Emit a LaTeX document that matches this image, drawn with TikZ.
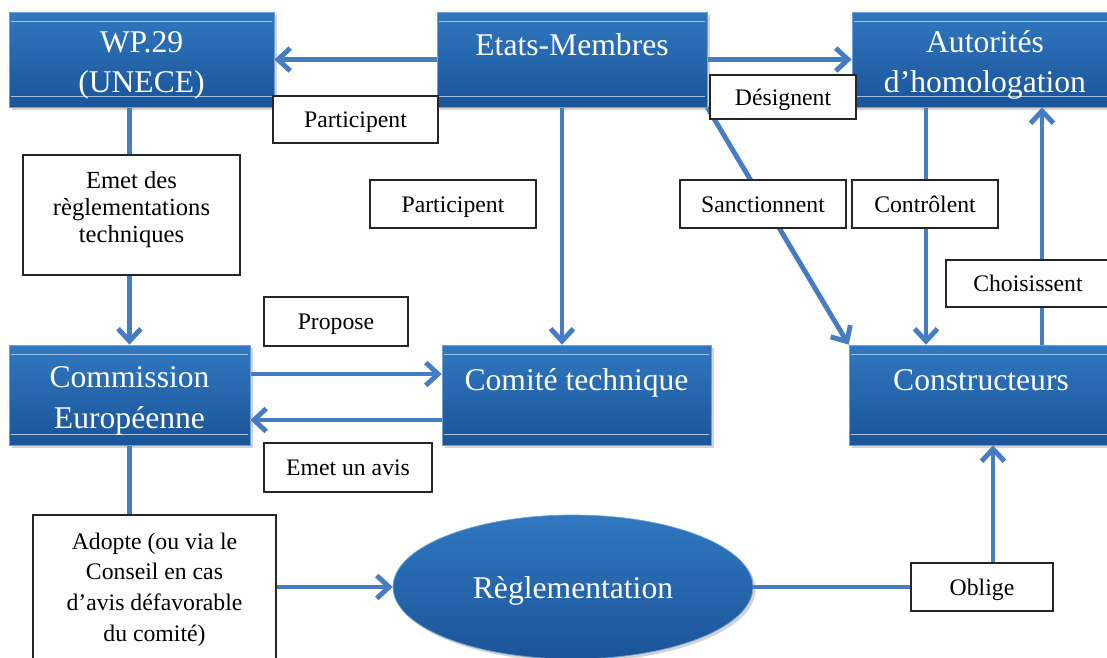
\documentclass[tikz,border=0pt]{standalone}
\usepackage{fontspec}
\setmainfont{Liberation Serif}
\usetikzlibrary{shapes.geometric, arrows.meta, shadows, calc, backgrounds}
\definecolor{boxtop}{RGB}{48,120,192}
\definecolor{boxbot}{RGB}{27,84,152}
\definecolor{lineblue}{RGB}{70,124,194}
\tikzstyle{arrow} = [line width=2.8pt, draw=lineblue, -{Straight Barb[length=7pt,width=13pt]}]
\tikzstyle{link} = [line width=2.8pt, draw=lineblue]

\begin{document}
\begin{tikzpicture}[x=0.02cm, y=-0.02cm,
    bluebox/.style={rectangle, top color=boxtop, bottom color=boxbot, draw=boxtop!70!white, line width=0.4pt,
        drop shadow={opacity=0.35, shadow xshift=1.5pt, shadow yshift=-1.5pt},
        text=white, font=\fontsize{18}{23}\selectfont, align=center, inner sep=0pt},
    shine/.style={path picture={
        \draw[white!55!boxtop, line width=0.5pt]
          ([xshift=1pt, yshift=-5.5pt]path picture bounding box.north west) -- ([xshift=-1pt, yshift=-5.5pt]path picture bounding box.north east)
          ([xshift=1pt, yshift=6pt]path picture bounding box.south west) -- ([xshift=-1pt, yshift=6pt]path picture bounding box.south east);}},
    raised/.style={text height=12pt, text depth=17pt},
    twoline/.style={text height=38pt, text depth=0pt},
    lbl/.style={rectangle, draw=black!85, line width=0.7pt, fill=white,
        font=\fontsize{13.5}{16}\selectfont, align=center, inner sep=0pt},
    tag/.style={lbl, text height=9.3pt, text depth=0pt}]
\useasboundingbox (0, 0) rectangle (1107, 657);

% blue boxes
\node[bluebox, shine, twoline, minimum width=5.3cm, minimum height=1.9cm] (wp) at (141.5, 59.5) {WP.29\\(UNECE)};
\node[bluebox, shine, raised, minimum width=5.4cm, minimum height=1.9cm] (etats) at (572, 59.5) {Etats-Membres};
\node[bluebox, shine, twoline, minimum width=5.32cm, minimum height=1.9cm] (auto) at (985, 59.5) {Autorités\\d’homologation};
\node[bluebox, shine, twoline, minimum width=4.82cm, minimum height=2cm] (comm) at (129.5, 395) {Commission\\Européenne};
\node[bluebox, shine, raised, minimum width=5.38cm, minimum height=2cm] (comite) at (576.5, 395) {Comité technique};
\node[bluebox, shine, raised, minimum width=5.28cm, minimum height=2cm] (constr) at (981, 395) {Constructeurs};
\node[bluebox, ellipse, text height=13.6pt, text depth=0pt, minimum width=7.2cm, minimum height=2.88cm] (regl) at (573, 587) {Règlementation};

% label boxes
\node[tag, minimum width=3.3cm, minimum height=0.94cm] (part1) at (355.5, 119.5) {Participent};
\node[lbl, minimum width=4.34cm, minimum height=2.4cm, font=\fontsize{14}{15.6}\selectfont,
      text height=31.8pt, text depth=0pt] (emet) at (131.5, 215) {Emet des\\règlementations\\techniques};
\node[tag, minimum width=3.32cm, minimum height=0.96cm] (part2) at (453, 204) {Participent};
\node[tag, minimum width=2.92cm, minimum height=0.88cm] (design) at (783, 97) {Désignent};
\node[tag, minimum width=3.32cm, minimum height=0.96cm] (sanct) at (763, 204) {Sanctionnent};
\node[tag, minimum width=2.92cm, minimum height=0.96cm] (ctrl) at (925, 204) {Contrôlent};
\node[tag, minimum width=3.28cm, minimum height=0.94cm] (choix) at (1028, 283.5) {Choisissent};
\node[tag, minimum width=2.88cm, minimum height=0.98cm] (prop) at (336, 321.5) {Propose};
\node[tag, minimum width=3.36cm, minimum height=0.98cm] (avis) at (348, 467.5) {Emet un avis};
\node[lbl, minimum width=4.86cm, minimum height=2.9cm, font=\fontsize{13.5}{17.6}\selectfont,
      text height=61.8pt, text depth=0pt] (adopte) at (154.5, 587.5) {Adopte (ou via le\\Conseil en cas\\d’avis défavorable\\du comité)};
\node[tag, minimum width=2.84cm, minimum height=0.96cm] (oblige) at (982, 587) {Oblige};

% connectors, behind the boxes
\begin{pgfonlayer}{background}
\draw[arrow] (etats.west) -- (wp.east);
\draw[arrow] (etats.east) -- (auto.west);
\draw[arrow] ($(etats.south)+(-10,0)$) -- ($(comite.north)+(-14.5,0)$);
\draw[arrow] (etats.south east) -- (constr.north west);
\draw[arrow] ($(auto.south)+(-59,0)$) -- ($(constr.north)+(-55,0)$);
\draw[arrow] ($(constr.north)+(61,0)$) -- ($(auto.south)+(57,0)$);
\draw[arrow] (wp.south -| comm.north) -- (comm.north);
\draw[arrow] ($(comm.east)+(0,-21)$) -- ($(comite.west)+(0,-21)$);
\draw[arrow] ($(comite.west)+(0,25)$) -- ($(comm.east)+(0,25)$);
\draw[link] (comm.south) -- (comm.south |- adopte.north);
\draw[arrow] (adopte.east |- regl.west) -- (regl.west);
\draw[arrow] (regl.east) -| ($(constr.south)+(12,0)$);
\end{pgfonlayer}
\end{tikzpicture}
\end{document}
